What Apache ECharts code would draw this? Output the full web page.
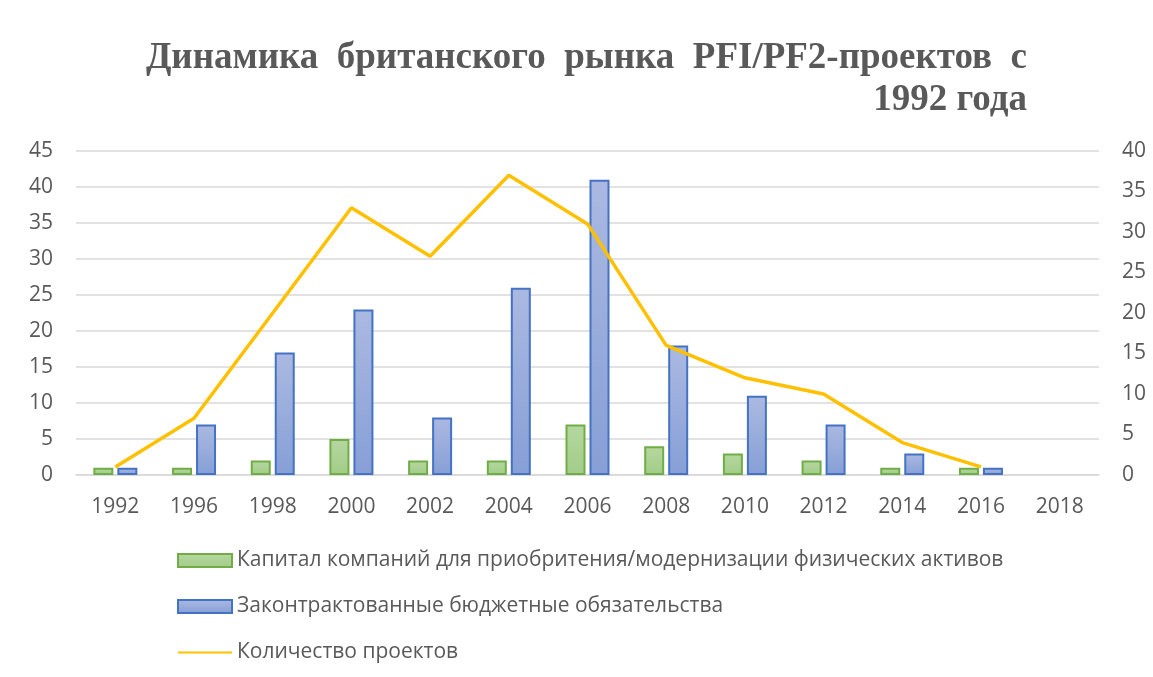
<!DOCTYPE html>
<html><head><meta charset="utf-8">
<script src="https://cdn.jsdelivr.net/npm/echarts@6/dist/echarts.min.js"></script>
<style>html,body{margin:0;padding:0;background:#fff}#c{width:1153px;height:677px}</style>
</head><body><div id="c"></div>
<script>
const years = ['1992','1996','1998','2000','2002','2004','2006','2008','2010','2012','2014','2016','2018'];
const capital = [1,1,2,5,2,2,7,4,3,2,1,1,null];
const budget = [1,7,17,23,8,26,41,18,11,7,3,1,null];
const projects = [1,7,20,33,27,37,31,16,12,10,4,1,null];
const leftTicks = [0,45,5];
const rightTicks = [0,40,5];
const names = ['Капитал компаний для приобритения/модернизации физических активов','Законтрактованные бюджетные обязательства','Количество проектов'];
const titleLines = ['Динамика  британского  рынка  PFI/PF2-проектов  с', '1992 года'];

const chart = echarts.init(document.getElementById('c'));
const FONT = 'Open Sans, sans-serif';
const lab = {color:'#595959', fontSize:21, fontFamily:FONT};
const grad = (a,b)=>new echarts.graphic.LinearGradient(0,0,0,1,[{offset:0,color:a},{offset:1,color:b}]);
const titleFont = 'bold 37px "Liberation Serif", serif';
chart.setOption({
  animation:false,
  graphic:[
    {type:'text', right:126, top:40, style:{text:titleLines[0], font:titleFont, fill:'#595959'}},
    {type:'text', right:126, top:82, style:{text:titleLines[1], font:titleFont, fill:'#595959'}}
  ],
  grid:{left:76, right:54, top:151, bottom:202},
  legend:{orient:'vertical', left:172, top:542, itemWidth:54, itemHeight:13, itemGap:19,
    textStyle:{color:'#595959', fontSize:21, fontFamily:FONT, lineHeight:27},
    data:[{name:names[0], icon:'rect'},{name:names[1], icon:'rect'},{name:names[2], itemStyle:{opacity:0}}]},
  xAxis:{type:'category', data:years, axisTick:{show:false},
    axisLine:{lineStyle:{color:'#d9d9d9', width:1.5}},
    axisLabel:Object.assign({margin:22}, lab)},
  yAxis:[
    {type:'value', min:leftTicks[0], max:leftTicks[1], interval:leftTicks[2],
     axisLabel:Object.assign({margin:23}, lab), splitLine:{lineStyle:{color:'#d9d9d9', width:1.5}}},
    {type:'value', min:rightTicks[0], max:rightTicks[1], interval:rightTicks[2],
     axisLabel:Object.assign({margin:23}, lab), splitLine:{show:false}}
  ],
  series:[
    {name:names[0], type:'bar', data:capital, barWidth:20, barGap:'20%',
     itemStyle:{color:grad('#b5d7a0','#a2cc88'), borderColor:'#70ad47', borderWidth:2}},
    {name:names[1], type:'bar', data:budget, barWidth:20,
     itemStyle:{color:grad('#abb9e1','#869fd6'), borderColor:'#4472c4', borderWidth:2}},
    {name:names[2], type:'line', yAxisIndex:1, data:projects, showSymbol:false, symbol:'none',
     lineStyle:{color:'#ffc000', width:3.5}, itemStyle:{color:'#ffc000'}}
  ]
});
</script></body></html>
